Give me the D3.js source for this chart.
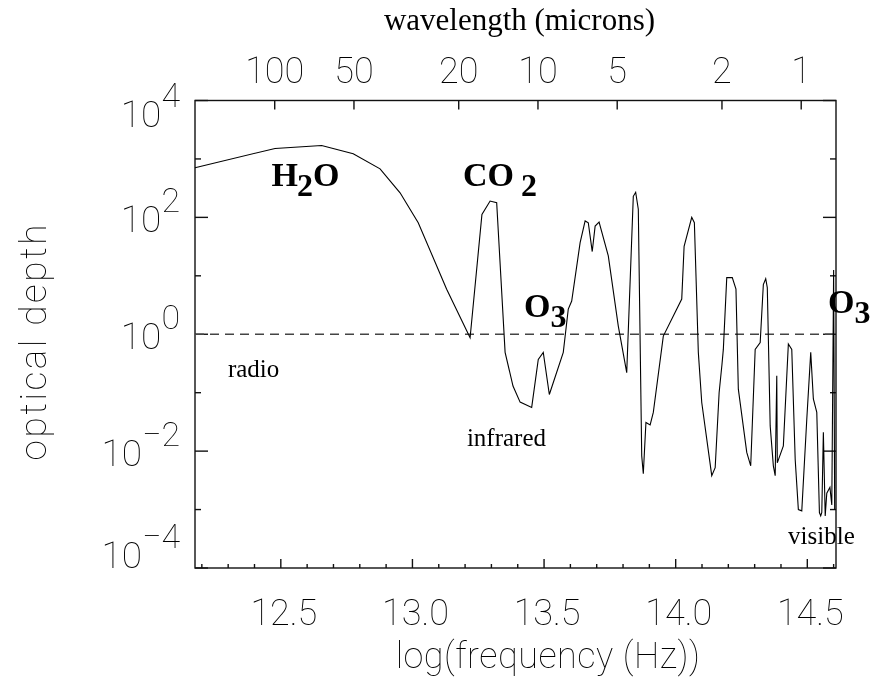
<!DOCTYPE html>
<html>
<head>
<meta charset="utf-8">
<script src="https://cdn.jsdelivr.net/npm/d3@7/dist/d3.min.js"></script>
<style>
  body { margin: 0; background: #fff; }
  svg { will-change: transform; }
  .tick-label { font-family: Roboto, "DejaVu Sans", sans-serif; font-weight: 100; fill: #000; }
  .note { font-family: "Liberation Serif", "Times New Roman", serif; fill: #000; }
</style>
</head>
<body>
<script>
// log10 of frequency (Hz) and optical depth
const logFreq = [
  12.174, 12.478, 12.655, 12.775, 12.877, 12.953, 13.022, 13.130, 13.219, 13.264,
  13.295, 13.320, 13.352, 13.382, 13.409, 13.453, 13.478, 13.497, 13.520, 13.573,
  13.592, 13.605, 13.637, 13.656, 13.668, 13.683, 13.694, 13.709, 13.744, 13.782,
  13.814, 13.839, 13.848, 13.858, 13.871, 13.877, 13.887, 13.903, 13.915, 13.953,
  14.023, 14.032, 14.061, 14.071, 14.086, 14.099, 14.137, 14.150, 14.165, 14.176,
  14.181, 14.194, 14.215, 14.229, 14.238, 14.270, 14.285, 14.302, 14.321, 14.333,
  14.342, 14.348, 14.359, 14.371, 14.378, 14.384, 14.386, 14.409, 14.428, 14.441,
  14.454, 14.466, 14.479, 14.498, 14.513, 14.523, 14.536, 14.546, 14.551, 14.555,
  14.561, 14.568, 14.574, 14.586, 14.593, 14.600, 14.604
];
const opticalDepth = [
  708, 1510, 1700, 1230, 676, 263, 81, 5.9, 0.87, 112,
  190, 178, 0.49, 0.13, 0.069, 0.056, 0.37, 0.49, 0.093, 0.49,
  2.7, 3.7, 37, 87, 81, 26, 71, 83, 22, 1.38,
  0.22, 229, 269, 138, 0.0083, 0.0041, 0.031, 0.028, 0.046, 0.93,
  4.0, 32, 100, 81, 0.49, 0.068, 0.0038, 0.0052, 0.1, 0.31,
  0.55, 9.3, 9.3, 5.9, 0.115, 0.0095, 0.0056, 0.55, 0.72, 7.1,
  8.9, 6.3, 0.027, 0.0056, 0.0038, 0.195, 0.0063, 0.0123, 0.68, 0.55,
  0.0072, 0.001, 0.00095, 0.035, 0.49, 0.078, 0.046, 0.00089, 0.00078, 0.00089,
  0.021, 0.00078, 0.0019, 0.0024, 0.0012, 12.6, 0.001
];

const freqTicks = [12.5, 13.0, 13.5, 14.0, 14.5];
const freqMinorTicks = d3.range(122, 147).map(d => d / 10);
const wavelengthTicks = [100, 50, 20, 10, 5, 2, 1];
const depthExponents = [4, 2, 0, -2, -4];
const depthMinorExponents = [3, 1, -1, -3];

// molecule labels: text, subscript, trailing text, anchor in data units
const molecules = [
  { text: "H", sub: "2", tail: "O", f: 12.465, tau: 10 ** 2.53, gap: -1 },
  { text: "CO", sub: "2", tail: "", f: 13.192, tau: 10 ** 2.53, gap: 7 },
  { text: "O", sub: "3", tail: "", f: 13.424, tau: 10 ** 0.29, gap: 0 },
  { text: "O", sub: "3", tail: "", f: 14.579, tau: 10 ** 0.36, gap: 0 }
];
const bands = [
  { text: "radio", f: 12.299, tau: 10 ** -0.735 },
  { text: "infrared", f: 13.207, tau: 10 ** -1.91 },
  { text: "visible", f: 14.427, tau: 10 ** -3.59 }
];

const width = 872;
const height = 688;
const plotLeft = 195, plotRight = 836, plotTop = 100.5, plotBottom = 568;
const lightSpeed = 2.998e14; // microns per second

const svg = d3.select('body').append('svg')
  .attr('width', width)
  .attr('height', height);

const xScale = d3.scaleLinear().domain([12.174, 14.609]).range([plotLeft, plotRight]);
const yScale = d3.scaleLog().domain([1e-4, 1e4]).range([plotBottom, plotTop]);
const lambdaScale = d3.scaleLog()
  .domain(xScale.domain().map(f => lightSpeed / 10 ** f))
  .range([plotLeft, plotRight]);

const frame = svg.append('g').attr('stroke', '#111').attr('stroke-width', 1.4);

// bottom axis ticks
frame.selectAll('.xminor').data(freqMinorTicks).join('line')
  .attr('x1', d => xScale(d)).attr('x2', d => xScale(d))
  .attr('y1', plotBottom).attr('y2', d => plotBottom - (Math.abs(d * 2 - Math.round(d * 2)) < 1e-6 ? 9 : 4));

// top axis (wavelength) ticks
frame.selectAll('.xtop').data(wavelengthTicks).join('line')
  .attr('x1', d => lambdaScale(d)).attr('x2', d => lambdaScale(d))
  .attr('y1', plotTop).attr('y2', plotTop + 9);

// left and right ticks
const yAll = depthExponents.map(e => ({ e, len: 13 }))
  .concat(depthMinorExponents.map(e => ({ e, len: 6 })));
frame.selectAll('.yleft').data(yAll).join('line')
  .attr('x1', plotLeft).attr('x2', d => plotLeft + d.len)
  .attr('y1', d => yScale(10 ** d.e)).attr('y2', d => yScale(10 ** d.e));
frame.selectAll('.yright').data(yAll).join('line')
  .attr('x1', plotRight).attr('x2', d => plotRight - d.len)
  .attr('y1', d => yScale(10 ** d.e)).attr('y2', d => yScale(10 ** d.e));

frame.append('rect')
  .attr('x', plotLeft).attr('y', plotTop)
  .attr('width', plotRight - plotLeft).attr('height', plotBottom - plotTop)
  .attr('fill', 'none');

// tick labels
svg.append('g').selectAll('text').data(freqTicks).join('text')
  .attr('class', 'tick-label')
  .attr('x', d => xScale(d) + 3)
  .attr('y', plotBottom + 57)
  .attr('text-anchor', 'middle')
  .attr('font-size', 36)
  .text(d => d.toFixed(1));

svg.append('g').selectAll('text').data(wavelengthTicks).join('text')
  .attr('class', 'tick-label')
  .attr('x', d => lambdaScale(d))
  .attr('y', 83)
  .attr('text-anchor', 'middle')
  .attr('font-size', 36)
  .text(d => d);

const yLabels = svg.append('g').selectAll('text').data(depthExponents).join('text')
  .attr('class', 'tick-label')
  .attr('x', 180)
  .attr('y', d => Math.min(Math.max(yScale(10 ** d) + 15, plotTop + 26), plotBottom))
  .attr('text-anchor', 'end')
  .attr('font-size', 37);
yLabels.append('tspan').text('10');
yLabels.append('tspan')
  .attr('dy', -20)
  .attr('font-size', 34)
  .text(d => d < 0 ? '\u2212' + Math.abs(d) : d);

// axis titles
svg.append('text')
  .attr('class', 'note')
  .attr('x', (plotLeft + plotRight) / 2 + 4)
  .attr('y', 30)
  .attr('text-anchor', 'middle')
  .attr('font-size', 31)
  .text('wavelength (microns)');

svg.append('text')
  .attr('class', 'tick-label')
  .attr('x', 548)
  .attr('y', 668)
  .attr('text-anchor', 'middle')
  .attr('font-size', 36)
  .attr('letter-spacing', 0.5)
  .text('log(frequency (Hz))');

svg.append('text')
  .attr('class', 'tick-label')
  .attr('transform', `translate(46, ${(plotTop + plotBottom) / 2 + 7}) rotate(-90)`)
  .attr('text-anchor', 'middle')
  .attr('font-size', 37)
  .attr('letter-spacing', 2.5)
  .text('optical depth');

// unity reference line
svg.append('line')
  .attr('x1', plotLeft).attr('x2', plotRight)
  .attr('y1', yScale(1)).attr('y2', yScale(1))
  .attr('stroke', '#444')
  .attr('stroke-width', 1.4)
  .attr('stroke-dasharray', '9,6');

// optical depth curve
const points = logFreq.map((f, i) => [f, opticalDepth[i]]);
const line = d3.line()
  .x(d => xScale(d[0]))
  .y(d => yScale(d[1]));

svg.append('path')
  .datum(points)
  .attr('d', line)
  .attr('fill', 'none')
  .attr('stroke', '#000')
  .attr('stroke-width', 1.1)
  .attr('stroke-linejoin', 'miter');

// annotations
const mol = svg.append('g').selectAll('text').data(molecules).join('text')
  .attr('class', 'note')
  .attr('x', d => xScale(d.f))
  .attr('y', d => yScale(d.tau))
  .attr('font-size', 34)
  .attr('font-weight', 'bold');
mol.append('tspan').text(d => d.text);
mol.append('tspan').attr('dx', d => d.gap).attr('dy', 10).attr('font-size', 32).text(d => d.sub);
mol.append('tspan').attr('dy', -10).text(d => d.tail);

svg.append('g').selectAll('text').data(bands).join('text')
  .attr('class', 'note')
  .attr('x', d => xScale(d.f))
  .attr('y', d => yScale(d.tau))
  .attr('font-size', 25)
  .text(d => d.text);
</script>
</body>
</html>
